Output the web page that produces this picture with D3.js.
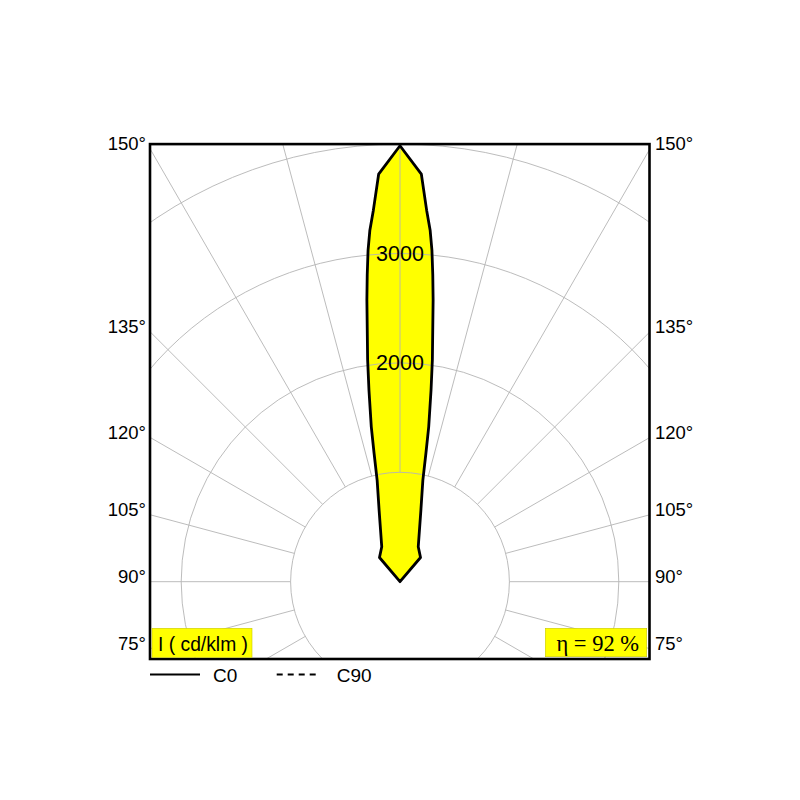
<!DOCTYPE html>
<html>
<head>
<meta charset="utf-8">
<script src="https://cdn.jsdelivr.net/npm/d3@7"></script>
<style>
  html, body { margin: 0; padding: 0; background: #fff; }
  svg { display: block; }
</style>
</head>
<body>
<svg id="chart" width="800" height="800"></svg>
<script>
// ---- data ----
// gamma angle (deg, 0 = nadir, 180 = zenith) and luminous intensity in cd/klm, plane C0
const gammaC0 = [135, 139.7, 152.4, 163.7, 167.3, 168.6, 169.5, 170.8, 171.7, 173.3, 173.9, 174.5, 175.1, 175.9, 177, 180];
const intensityC0 = [0, 290, 360, 680, 950, 1200, 1440, 1775, 2050, 2595, 2820, 3045, 3225, 3405, 3730, 3985];
const ringValues = [1000, 2000, 3000, 4000, 5000];
const ringLabels = [2000, 3000];
const rayAngles = d3.range(0, 360, 15);
const angleLabels = [75, 90, 105, 120, 135, 150];
const legendNames = ["C0", "C90"];
const unitLabel = "I ( cd/klm )";
const efficiencyLabel = "η = 92 %";

// ---- layout ----
const svg = d3.select("#chart");
const cx = 400, cy = 581.7;
const r = d3.scaleLinear().domain([0, 4000]).range([0, 437.6]);
const box = { x0: 150, x1: 649.5, y0: cy - r(4000), y1: 659 };
const font = "'Liberation Sans', Arial, sans-serif";

svg.append("defs").append("clipPath").attr("id", "clip")
  .append("rect").attr("x", box.x0).attr("y", box.y0)
  .attr("width", box.x1 - box.x0).attr("height", box.y1 - box.y0);

const rad = d => d * Math.PI / 180;
const pts = gammaC0.map((g, i) => ({ g, I: intensityC0[i] }));
const lobePts = [{ a: 0, I: 0 }]
  .concat(pts.map(p => ({ a: rad(180 - p.g), I: p.I })))
  .concat(pts.slice(0, -1).reverse().map(p => ({ a: -rad(180 - p.g), I: p.I })));
const radial = d3.lineRadial().angle(d => d.a).radius(d => r(d.I)).curve(d3.curveLinearClosed);

const plot = svg.append("g").attr("clip-path", "url(#clip)");
const lobeG = plot.append("g").attr("transform", `translate(${cx},${cy})`);
// fill first
lobeG.append("path").attr("d", radial(lobePts)).attr("fill", "#ffff00").attr("stroke", "none");

// grid
const grid = plot.append("g").attr("transform", `translate(${cx},${cy})`)
  .attr("fill", "none").attr("stroke", "#b4b4b4").attr("stroke-width", 0.9);
grid.selectAll("circle").data(ringValues).join("circle").attr("r", d => r(d));
grid.selectAll("line").data(rayAngles).join("line")
  .attr("x1", d => r(1000) * Math.sin(rad(d)))
  .attr("y1", d => -r(1000) * Math.cos(rad(d)))
  .attr("x2", d => r(5000) * Math.sin(rad(d)))
  .attr("y2", d => -r(5000) * Math.cos(rad(d)));

// lobe outline
plot.append("g").attr("transform", `translate(${cx},${cy})`)
  .append("path").attr("d", radial(lobePts))
  .attr("fill", "none").attr("stroke", "#000").attr("stroke-width", 2.8)
  .attr("stroke-linejoin", "round");

// ring labels
svg.selectAll("text.ring").data(ringLabels).join("text").attr("class", "ring")
  .attr("x", cx).attr("y", d => cy - r(d) + 7.5)
  .attr("text-anchor", "middle").attr("font-family", font).attr("font-size", 21.5)
  .attr("fill", "#000").text(d => d);

// frame
svg.append("rect").attr("x", box.x0).attr("y", box.y0)
  .attr("width", box.x1 - box.x0).attr("height", box.y1 - box.y0)
  .attr("fill", "none").attr("stroke", "#000").attr("stroke-width", 2.6);

// angle labels on both sides
const halfW = cx - box.x0;
angleLabels.forEach(g => {
  const a = rad(180 - g);
  const y = cy - halfW * Math.cos(a) / Math.sin(a) + 1.5;
  svg.append("text").attr("x", box.x0 - 4).attr("y", y).attr("text-anchor", "end")
    .attr("font-family", font).attr("font-size", 18.5).text(g + "°");
  svg.append("text").attr("x", box.x1 + 5.5).attr("y", y).attr("text-anchor", "start")
    .attr("font-family", font).attr("font-size", 18.5).text(g + "°");
});

// unit label box
svg.append("rect").attr("x", 152).attr("y", 628.3).attr("width", 100).attr("height", 29)
  .attr("fill", "#ffff00").attr("stroke", "#c8c800").attr("stroke-width", 0.6);
svg.append("text").attr("x", 158).attr("y", 651).attr("font-family", font)
  .attr("font-size", 19.3).text(unitLabel);

// efficiency box
svg.append("rect").attr("x", 545.3).attr("y", 628.3).attr("width", 101.4).attr("height", 28.4)
  .attr("fill", "#ffff00").attr("stroke", "#c8c800").attr("stroke-width", 0.6);
svg.append("text").attr("x", 639).attr("y", 650.5).attr("text-anchor", "end")
  .attr("font-family", "'Liberation Serif', 'Times New Roman', serif")
  .attr("font-size", 22.5).text(efficiencyLabel);

// legend
const leg = svg.append("g");
leg.append("line").attr("x1", 150).attr("x2", 200).attr("y1", 674.5).attr("y2", 674.5)
  .attr("stroke", "#000").attr("stroke-width", 2.2);
leg.append("text").attr("x", 213).attr("y", 682).attr("font-family", font)
  .attr("font-size", 19).text(legendNames[0]);
leg.append("line").attr("x1", 276.7).attr("x2", 317).attr("y1", 674.5).attr("y2", 674.5)
  .attr("stroke", "#000").attr("stroke-width", 2.2).attr("stroke-dasharray", "6,5");
leg.append("text").attr("x", 336.7).attr("y", 682).attr("font-family", font)
  .attr("font-size", 19).text(legendNames[1]);
</script>
</body>
</html>
